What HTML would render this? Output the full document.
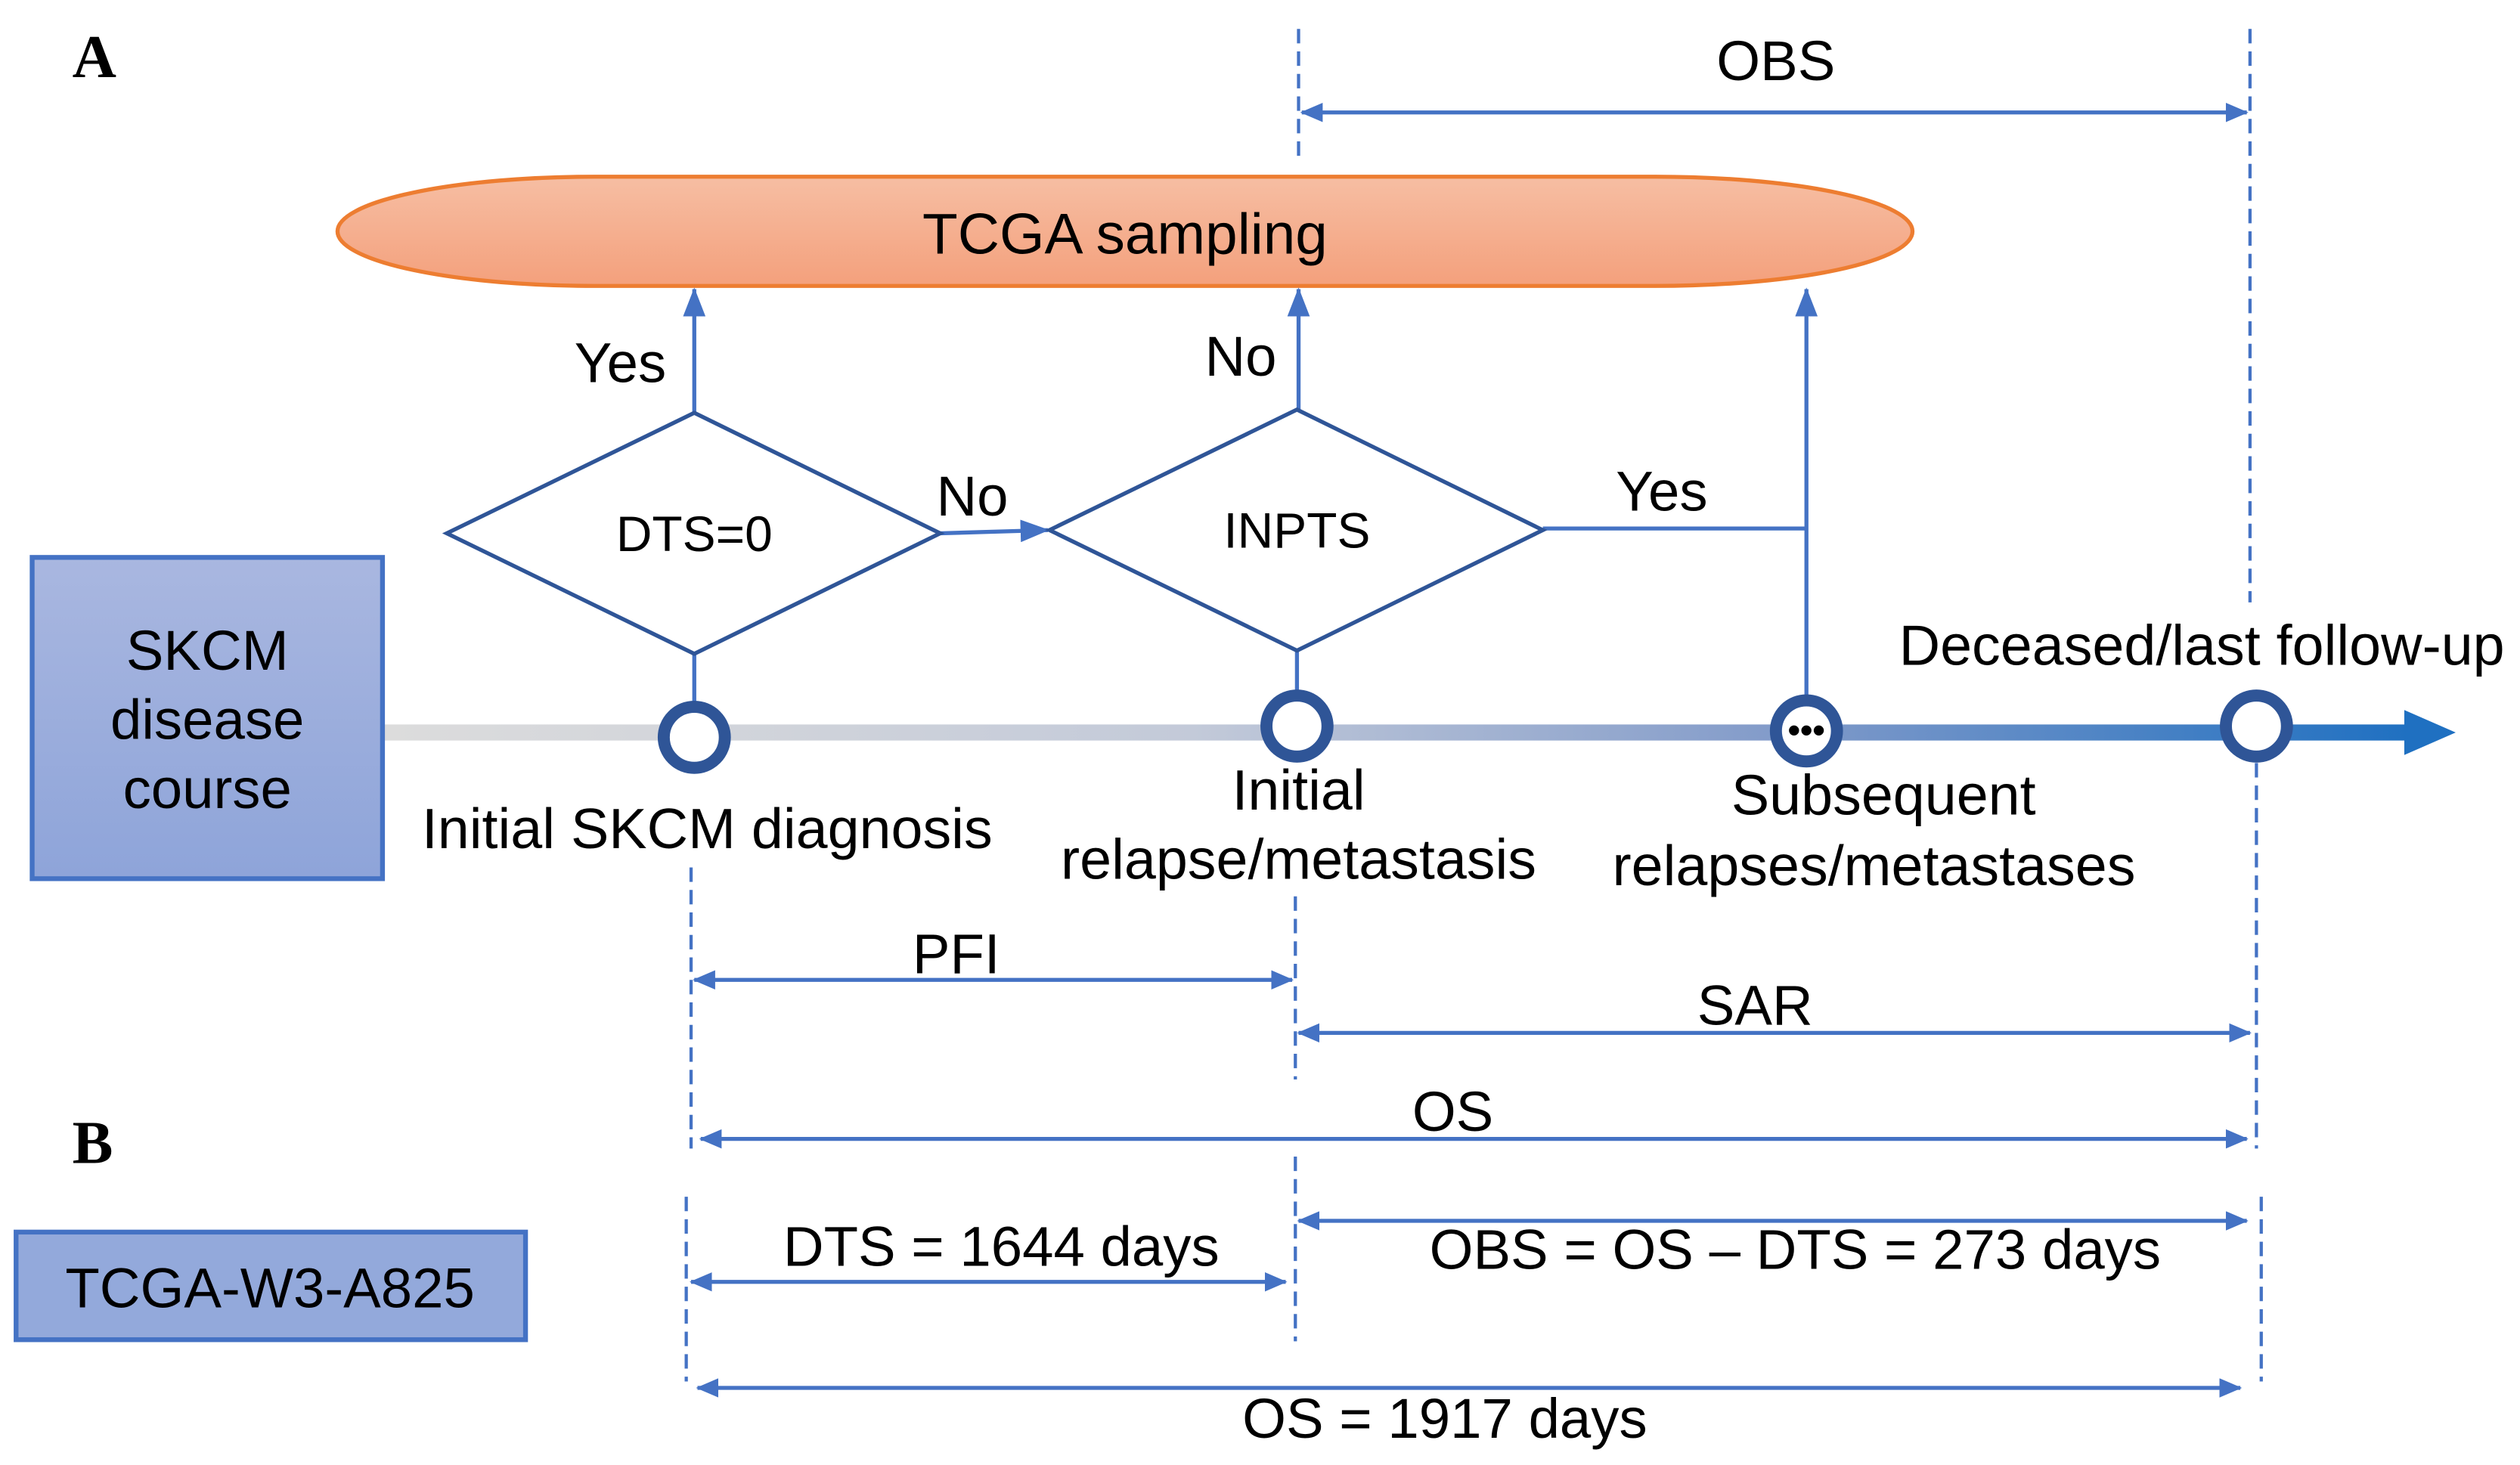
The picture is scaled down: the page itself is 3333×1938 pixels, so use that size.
<!DOCTYPE html>
<html><head><meta charset="utf-8"><style>html,body{margin:0;padding:0;background:#fff}svg{display:block}text{font-family:"Liberation Sans",sans-serif;fill:#000}</style></head><body>
<svg width="3333" height="1938" viewBox="0 0 1568 912" preserveAspectRatio="none" xmlns="http://www.w3.org/2000/svg">
<defs>
<linearGradient id="og" x1="0" y1="0" x2="0" y2="1"><stop offset="0" stop-color="#f6bea3"/><stop offset="1" stop-color="#f4a07c"/></linearGradient>
<linearGradient id="bg" x1="0" y1="0" x2="0" y2="1"><stop offset="0" stop-color="#a9b7e0"/><stop offset="1" stop-color="#8ea4d9"/></linearGradient>
<linearGradient id="tl" x1="238" y1="0" x2="1500" y2="0" gradientUnits="userSpaceOnUse"><stop offset="0" stop-color="#dcdcdc"/><stop offset="0.4" stop-color="#c3cad9"/><stop offset="0.7" stop-color="#7f99c9"/><stop offset="1" stop-color="#1f70c1"/></linearGradient>
<marker id="ah" markerWidth="14" markerHeight="12" refX="13" refY="6" orient="auto-start-reverse" markerUnits="userSpaceOnUse"><path d="M0,0 L14,6 L0,12 z" fill="#4472c4"/></marker>
<marker id="au" markerWidth="18" markerHeight="14" refX="17" refY="7" orient="auto" markerUnits="userSpaceOnUse"><path d="M0,0 L18,7 L0,14 z" fill="#4472c4"/></marker>
</defs>
<text x="45" y="48" style="font-family:'Liberation Serif',serif;font-weight:bold;font-size:38px">A</text>
<text x="45" y="724" style="font-family:'Liberation Serif',serif;font-weight:bold;font-size:38px">B</text>
<g stroke="#4472c4" stroke-width="2" stroke-dasharray="9,5" fill="none">
<line x1="808" y1="18" x2="808" y2="100"/><line x1="1400" y1="18" x2="1400" y2="375"/>
<line x1="430" y1="540" x2="430" y2="715"/><line x1="806" y1="558" x2="806" y2="672"/><line x1="1404" y1="475" x2="1404" y2="715"/>
<line x1="427" y1="745" x2="427" y2="860"/><line x1="806" y1="720" x2="806" y2="835"/><line x1="1407" y1="745" x2="1407" y2="860"/>
</g>
<g stroke="#4472c4" stroke-width="2.5" fill="none" marker-start="url(#ah)" marker-end="url(#ah)">
<line x1="810" y1="70" x2="1398" y2="70"/>
<line x1="432" y1="610" x2="804" y2="610"/>
<line x1="808" y1="643" x2="1400" y2="643"/>
<line x1="436" y1="709" x2="1398" y2="709"/>
<line x1="430" y1="798" x2="800" y2="798"/>
<line x1="808" y1="760" x2="1398" y2="760"/>
<line x1="434" y1="864" x2="1394" y2="864"/>
</g>
<text x="1105" y="50" font-size="35" text-anchor="middle">OBS</text>
<text x="595" y="606" font-size="35" text-anchor="middle">PFI</text>
<text x="1092" y="638" font-size="35" text-anchor="middle">SAR</text>
<text x="904" y="704" font-size="35" text-anchor="middle">OS</text>
<text x="623" y="788" font-size="35" text-anchor="middle">DTS = 1644 days</text>
<text x="1117" y="790" font-size="35" text-anchor="middle">OBS = OS – DTS = 273 days</text>
<text x="899" y="895" font-size="35" text-anchor="middle">OS = 1917 days</text>
<rect x="210" y="110" width="980" height="68" rx="160" ry="34" fill="url(#og)" stroke="#ed7d31" stroke-width="2.5"/>
<text x="700" y="158" font-size="36" text-anchor="middle">TCGA sampling</text>
<g stroke="#4472c4" stroke-width="2.5" fill="none">
<line x1="432" y1="257" x2="432" y2="180" marker-end="url(#au)"/>
<line x1="808" y1="255" x2="808" y2="180" marker-end="url(#au)"/>
<line x1="1124" y1="440" x2="1124" y2="180" marker-end="url(#au)"/>
<line x1="960" y1="329" x2="1124" y2="329"/>
<line x1="585" y1="332" x2="652" y2="330" marker-end="url(#au)"/>
<line x1="432" y1="407" x2="432" y2="440"/>
<line x1="807" y1="405" x2="807" y2="432"/>
</g>
<polygon points="278,332 432,257 585,332 432,407" fill="#fff" stroke="#2f5597" stroke-width="2.5"/>
<polygon points="653,330 807,255 960,330 807,405" fill="#fff" stroke="#2f5597" stroke-width="2.5"/>
<text x="432" y="343" font-size="31" text-anchor="middle">DTS=0</text>
<text x="807" y="341" font-size="31" text-anchor="middle">INPTS</text>
<text x="386" y="238" font-size="35" text-anchor="middle">Yes</text>
<text x="772" y="234" font-size="35" text-anchor="middle">No</text>
<text x="605" y="321" font-size="35" text-anchor="middle">No</text>
<text x="1034" y="318" font-size="35" text-anchor="middle">Yes</text>
<rect x="238" y="451" width="1262" height="10" fill="url(#tl)"/>
<polygon points="1496,442 1528,456 1496,470" fill="#1f70c1"/>
<g fill="#fff" stroke="#2f5597" stroke-width="7.5">
<circle cx="432" cy="459" r="19"/><circle cx="807" cy="452" r="19"/><circle cx="1124" cy="455" r="19"/><circle cx="1404" cy="452" r="19"/>
</g>
<text x="1124" y="462" font-size="22" text-anchor="middle" font-weight="bold">•••</text>
<rect x="20" y="347" width="218" height="200" fill="url(#bg)" stroke="#4472c4" stroke-width="3"/>
<text x="129" y="417" font-size="35" text-anchor="middle">SKCM</text>
<text x="129" y="460" font-size="35" text-anchor="middle">disease</text>
<text x="129" y="503" font-size="35" text-anchor="middle">course</text>
<rect x="10" y="767" width="317" height="67" fill="#93a9db" stroke="#4472c4" stroke-width="3"/>
<text x="168" y="814" font-size="35" text-anchor="middle">TCGA-W3-A825</text>
<text x="440" y="528" font-size="35.5" text-anchor="middle">Initial SKCM diagnosis</text>
<text x="808" y="504" font-size="35.5" text-anchor="middle">Initial</text>
<text x="808" y="547" font-size="35.5" text-anchor="middle">relapse/metastasis</text>
<text x="1172" y="507" font-size="35.5" text-anchor="middle">Subsequent</text>
<text x="1166" y="551" font-size="35.5" text-anchor="middle">relapses/metastases</text>
<text x="1370" y="414" font-size="35.5" text-anchor="middle">Deceased/last follow-up</text>
</svg>
</body></html>
